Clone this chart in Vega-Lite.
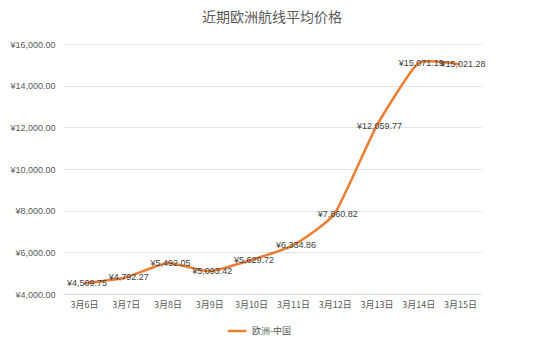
{
  "$schema": "https://vega.github.io/schema/vega-lite/v6.json",
  "width": 418,
  "height": 250,
  "autosize": "none",
  "padding": {"left": 63, "top": 44, "right": 58, "bottom": 58},
  "background": "white",
  "title": {"text": "近期欧洲航线平均价格", "font": "Noto Sans CJK SC", "fontSize": 14, "fontWeight": "normal", "color": "#595959", "offset": 15, "anchor": "middle"},
  "config": {"view": {"stroke": null}, "locale": {"number": {"decimal": ".", "thousands": ",", "grouping": [3], "currency": ["¥", ""]}}},
  "data": {"values": [
    {"date": "3月6日", "price": 4509.75, "series": "欧洲-中国"},
    {"date": "3月7日", "price": 4792.27, "series": "欧洲-中国"},
    {"date": "3月8日", "price": 5492.05, "series": "欧洲-中国"},
    {"date": "3月9日", "price": 5093.42, "series": "欧洲-中国"},
    {"date": "3月10日", "price": 5629.72, "series": "欧洲-中国"},
    {"date": "3月11日", "price": 6334.86, "series": "欧洲-中国"},
    {"date": "3月12日", "price": 7860.82, "series": "欧洲-中国"},
    {"date": "3月13日", "price": 12059.77, "series": "欧洲-中国"},
    {"date": "3月14日", "price": 15071.19, "series": "欧洲-中国"},
    {"date": "3月15日", "price": 15021.28, "series": "欧洲-中国"}
  ]},
  "encoding": {
    "x": {"field": "date", "type": "nominal", "sort": null, "scale": {"paddingInner": 0, "paddingOuter": 0},
      "axis": {"title": null, "labelAngle": 0, "labelFont": "Noto Sans CJK SC", "labelFontSize": 9, "labelColor": "#595959", "ticks": false, "domainColor": "#D9D9D9", "labelPadding": 6, "grid": false}},
    "y": {"field": "price", "type": "quantitative", "scale": {"domain": [4000, 16000], "nice": false, "zero": false},
      "axis": {"title": null, "values": [4000, 6000, 8000, 10000, 12000, 14000, 16000], "format": "$,.2f", "labelFont": "Liberation Sans", "labelFontSize": 9, "labelColor": "#595959", "ticks": false, "domain": false, "gridColor": "#E4E4E4", "labelPadding": 8}}
  },
  "layer": [
    {"mark": {"type": "line", "interpolate": "cardinal", "tension": 0.5, "strokeWidth": 2.5},
     "encoding": {"color": {"field": "series", "type": "nominal", "scale": {"range": ["#ED7D31"]},
       "legend": {"title": null, "orient": "none", "legendX": 163, "legendY": 276, "symbolType": "stroke", "symbolStrokeWidth": 2.5, "symbolSize": 350, "labelFont": "Noto Sans CJK SC", "labelFontSize": 9, "labelColor": "#595959"}}}},
    {"mark": {"type": "text", "font": "Liberation Sans", "fontSize": 9, "color": "#404040", "dx": 3},
     "encoding": {"text": {"field": "price", "type": "quantitative", "format": "$,.2f"}}}
  ]
}
